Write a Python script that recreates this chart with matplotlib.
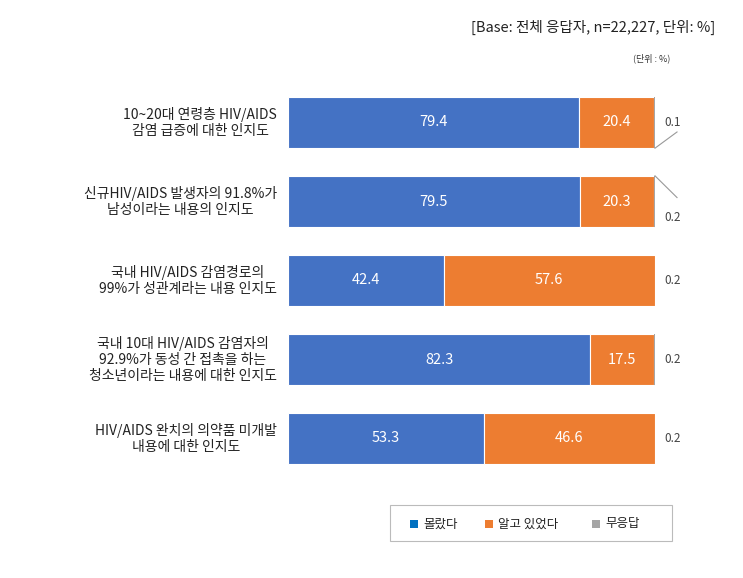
import matplotlib
matplotlib.use("Agg")
import matplotlib.pyplot as plt
from matplotlib.patches import Rectangle

plt.rcParams["font.family"] = "Noto Sans CJK KR"

categories = ["10~20대 연령층 HIV/AIDS\n감염 급증에 대한 인지도",
              "신규HIV/AIDS 발생자의 91.8%가\n남성이라는 내용의 인지도",
              "국내 HIV/AIDS 감염경로의\n99%가 성관계라는 내용 인지도",
              "국내 10대 HIV/AIDS 감염자의\n92.9%가 동성 간 접촉을 하는\n청소년이라는 내용에 대한 인지도",
              "HIV/AIDS 완치의 의약품 미개발\n내용에 대한 인지도"]
didnt_know = [79.4, 79.5, 42.4, 82.3, 53.3]
knew = [20.4, 20.3, 57.6, 17.5, 46.6]
no_answer = [0.1, 0.2, 0.2, 0.2, 0.2]
series_names = ["몰랐다", "알고 있었다", "무응답"]

blue, orange, gray = "#4472C4", "#ED7D31", "#A5A5A5"

fig = plt.figure(figsize=(7.43, 5.78), dpi=100)
ax = fig.add_axes([288/743, 1-478/578, 367/743, 395/578])
y = list(range(len(categories)))
h = 0.65
ax.barh(y, didnt_know, height=h, color=blue, edgecolor="white", linewidth=0.8)
ax.barh(y, knew, left=didnt_know, height=h, color=orange, edgecolor="white", linewidth=0.8)
left3 = [a + b for a, b in zip(didnt_know, knew)]
ax.barh(y, no_answer, left=left3, height=h, color=gray)
ax.set_xlim(0, 100)
ax.set_ylim(4.5, -0.5)
ax.axis("off")

for i in y:
    ax.text(didnt_know[i] / 2, i, f"{didnt_know[i]}", color="white", ha="center", va="center", fontsize=10.5)
    ax.text(didnt_know[i] + knew[i] / 2, i, f"{knew[i]}", color="white", ha="center", va="center", fontsize=10.5)
    ax.text(-3, i, categories[i], ha="right", va="center", fontsize=10, multialignment="center", color="#222222")
    if i == 0:
        ax.plot([100, 106], [i + h/2, i + 0.12], color="#999999", lw=0.8, clip_on=False)
        ax.text(102.5, i, f"{no_answer[i]}", ha="left", va="center", fontsize=8.5, color="#444444")
    elif i == 1:
        ax.plot([100, 106], [i - h/2, i - 0.05], color="#999999", lw=0.8, clip_on=False)
        ax.text(102.5, i + 0.2, f"{no_answer[i]}", ha="left", va="center", fontsize=8.5, color="#444444")
    else:
        ax.text(102.5, i, f"{no_answer[i]}", ha="left", va="center", fontsize=8.5, color="#444444")

fig.text(715/743, 1-27/578, "[Base: 전체 응답자, n=22,227, 단위: %]", ha="right", va="center", fontsize=10.5, color="#222222")
fig.text(670/743, 1-58/578, "(단위 : %)", ha="right", va="center", fontsize=6.5, color="#333333")

# legend box
fig.patches.append(Rectangle((390/743, 1-541/578), 282/743, 36/578, transform=fig.transFigure,
                             facecolor="white", edgecolor="#BBBBBB", lw=0.8))
leg_x = [410, 485, 592]
leg_c = ["#0070C0", orange, gray]
for lx, c, name in zip(leg_x, leg_c, series_names):
    fig.patches.append(Rectangle((lx/743, 1-528/578), 8/743, 8/578, transform=fig.transFigure, facecolor=c, edgecolor="none"))
    fig.text((lx + 13)/743, 1-524/578, name, ha="left", va="center", fontsize=9, color="#222222")

fig.savefig("out.png", dpi=100)
